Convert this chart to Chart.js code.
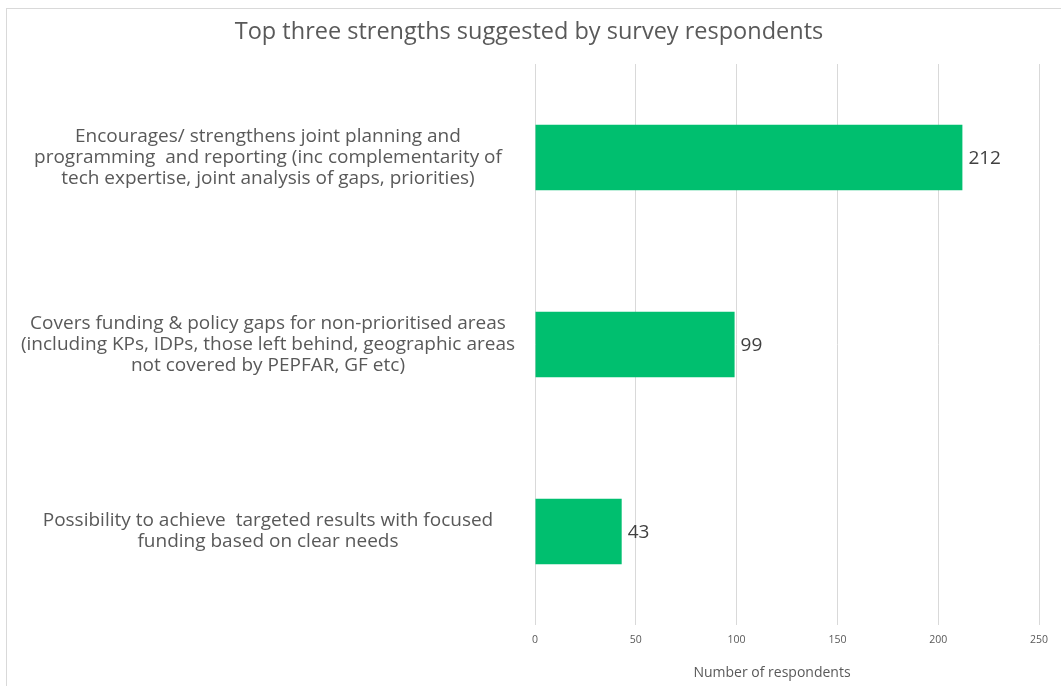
<!DOCTYPE html>
<html>
<head>
<meta charset="utf-8">
<script src="https://cdn.jsdelivr.net/npm/chart.js@4/dist/chart.umd.min.js"></script>
<style>
  html, body { margin: 0; padding: 0; background: #fff; }
  .chart-box {
    position: absolute;
    left: 6px;
    top: 8px;
    width: 1058px;
    height: 678px;
    border: 1px solid #d9d9d9;
  }
</style>
</head>
<body>
<div class="chart-box"><canvas id="strengths"></canvas></div>
<script>
const strengths = [
  ["Encourages/ strengthens joint planning and",
   "programming  and reporting (inc complementarity of",
   "tech expertise, joint analysis of gaps, priorities)"],
  ["Covers funding & policy gaps for non-prioritised areas",
   "(including KPs, IDPs, those left behind, geographic areas",
   "not covered by PEPFAR, GF etc)"],
  ["Possibility to achieve  targeted results with focused",
   "funding based on clear needs"]
];
const respondents = [212, 99, 43];
const xTicks = [0, 50, 100, 150, 200, 250];
const xTitle = "Number of respondents";

const FONT = "'Open Sans', Lato, sans-serif";
const TEXT = "#595959";

// value labels past the bar ends, plus the x axis title sitting a bit left of centre
const barValues = {
  id: "barValues",
  afterDraw(chart) {
    const ctx = chart.ctx;
    const meta = chart.getDatasetMeta(0);
    ctx.save();
    ctx.font = "19px " + FONT;
    ctx.fillStyle = "#404040";
    ctx.textAlign = "left";
    ctx.textBaseline = "middle";
    meta.data.forEach((bar, i) => {
      ctx.fillText(String(respondents[i]), bar.x + 6, bar.y + 1);
    });

    const area = chart.chartArea;
    ctx.font = "14px " + FONT;
    ctx.fillStyle = TEXT;
    ctx.textAlign = "center";
    ctx.fillText(xTitle, (area.left + area.right) / 2 - 15, area.bottom + 48);
    ctx.restore();
  }
};

new Chart(document.getElementById("strengths"), {
  type: "bar",
  data: {
    labels: strengths,
    datasets: [{
      data: respondents,
      backgroundColor: "#00BF6F",
      borderWidth: 0,
      barPercentage: 0.35,
      categoryPercentage: 1
    }]
  },
  options: {
    indexAxis: "y",
    responsive: true,
    maintainAspectRatio: false,
    animation: false,
    // left/right padding also centres the title over the whole box
    layout: { padding: { left: 12, right: 26, top: 0, bottom: 0 } },
    plugins: {
      legend: { display: false },
      tooltip: { enabled: false },
      title: {
        display: true,
        text: "Top three strengths suggested by survey respondents",
        color: TEXT,
        font: { family: FONT, size: 23.5, weight: "normal", lineHeight: 1.2 },
        padding: { top: 9, bottom: 17.8 }
      }
    },
    scales: {
      x: {
        min: 0,
        max: 250,
        afterBuildTicks: (scale) => {
          scale.ticks = xTicks.map((v) => ({ value: v }));
        },
        afterFit: (scale) => { scale.height = 62; },
        grid: { color: "#d9d9d9", lineWidth: 1, drawTicks: false },
        border: { display: false },
        ticks: {
          color: TEXT,
          padding: 9,
          font: { family: FONT, size: 10.5 }
        }
      },
      y: {
        afterFit: (scale) => { scale.width = 516; },
        grid: { display: false, drawTicks: false },
        border: { display: false },
        ticks: {
          color: TEXT,
          crossAlign: "center",
          padding: 20,
          font: { family: FONT, size: 19, lineHeight: 1.1 }
        }
      }
    }
  },
  plugins: [barValues]
});
</script>
</body>
</html>
